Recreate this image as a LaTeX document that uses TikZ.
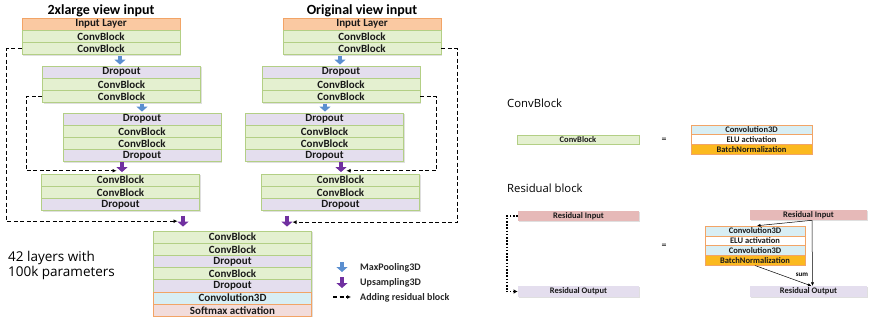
\documentclass[tikz,border=0pt]{standalone}
\usepackage{fontspec}
\setmainfont{Carlito}
\newfontfamily\gothic{Open Sans}
\usetikzlibrary{arrows.meta, shadows}

\definecolor{convgreen}{HTML}{E4F0D0}
\definecolor{convedge}{HTML}{B3CF85}
\definecolor{droplilac}{HTML}{E4DEEE}
\definecolor{inputpeach}{HTML}{FAC9A2}
\definecolor{orangeedge}{HTML}{F2A466}
\definecolor{convcyan}{HTML}{D8EEF4}
\definecolor{softpink}{HTML}{F2DCDB}
\definecolor{bnorange}{HTML}{FBB91F}
\definecolor{resred}{HTML}{E6B9B8}
\definecolor{poolblue}{HTML}{5B8FD0}
\definecolor{upviolet}{HTML}{7030A0}

\tikzset{
  layer/.style={draw=convedge, line width=0.8pt, minimum width=158pt, minimum height=12.2pt,
    inner sep=0pt, text=black!90, font=\bfseries\fontsize{11}{11}\selectfont,
    drop shadow={shadow xshift=1pt, shadow yshift=-1pt, opacity=0.25}},
  conv/.style={layer, fill=convgreen},
  drop/.style={layer, fill=droplilac},
  inlayer/.style={layer, fill=inputpeach, draw=orangeedge},
  conv3d/.style={layer, fill=convcyan, draw=orangeedge},
  softmax/.style={layer, fill=softpink, draw=orangeedge},
  % smaller boxes of the block definitions
  minibox/.style={layer, line width=0.6pt, minimum height=9.8pt, font=\bfseries\fontsize{8.5}{8.5}\selectfont},
  heading/.style={anchor=base, inner sep=0pt, font=\bfseries\fontsize{14}{14}\selectfont},
  subhead/.style={anchor=west, inner sep=0pt, font=\gothic\fontsize{11.3}{11.3}\selectfont},
  legend/.style={anchor=west, inner sep=0pt, text=black!85, font=\bfseries\fontsize{10}{10}\selectfont},
  pool/.style={line width=4.5pt, poolblue, shorten <=1pt, shorten >=1pt, -{Triangle[length=5pt, width=11pt]}},
  upsample/.style={line width=4.5pt, upviolet, -{Triangle[length=5pt, width=11pt]}},
  resid/.style={line width=1.2pt, dash pattern=on 4pt off 2.5pt, -{Latex[length=4pt, width=4pt]}},
  thinarrow/.style={line width=0.5pt, -{Latex[length=3.5pt, width=3pt]}},
}

\begin{document}
\begin{tikzpicture}[x=1pt, y=-1pt]
\useasboundingbox (0,0) rectangle (870,324);

% titles
\node[heading] (tA) at (101,14.5) {2xlarge view input};
\node[heading] (tB) at (362,14.5) {Original view input};

% 2xlarge branch
\foreach \lbl/\sty [count=\i] in {Input Layer/inlayer, ConvBlock/conv, ConvBlock/conv}
  \node[\sty] (A1-\i) at (101,11.9+12.2*\i) {\lbl};
\foreach \lbl/\sty [count=\i] in {Dropout/drop, ConvBlock/conv, ConvBlock/conv}
  \node[\sty] (A2-\i) at (121.5,59.9+12.2*\i) {\lbl};
\foreach \lbl/\sty [count=\i] in {Dropout/drop, ConvBlock/conv, ConvBlock/conv, Dropout/drop}
  \node[\sty] (A3-\i) at (142,106.9+12.2*\i) {\lbl};
\foreach \lbl/\sty [count=\i] in {ConvBlock/conv, ConvBlock/conv, Dropout/drop}
  \node[\sty] (A4-\i) at (120.5,167.9+12.2*\i) {\lbl};

% original view branch
\foreach \lbl/\sty [count=\i] in {Input Layer/inlayer, ConvBlock/conv, ConvBlock/conv}
  \node[\sty] (B1-\i) at (362,11.9+12.2*\i) {\lbl};
\foreach \lbl/\sty [count=\i] in {Dropout/drop, ConvBlock/conv, ConvBlock/conv}
  \node[\sty] (B2-\i) at (341,59.9+12.2*\i) {\lbl};
\foreach \lbl/\sty [count=\i] in {Dropout/drop, ConvBlock/conv, ConvBlock/conv, Dropout/drop}
  \node[\sty] (B3-\i) at (324.5,106.9+12.2*\i) {\lbl};
\foreach \lbl/\sty [count=\i] in {ConvBlock/conv, ConvBlock/conv, Dropout/drop}
  \node[\sty] (B4-\i) at (340.5,167.9+12.2*\i) {\lbl};

% merged head
\foreach \lbl/\sty [count=\i] in {ConvBlock/conv, ConvBlock/conv, Dropout/drop, ConvBlock/conv,
    Dropout/drop, Convolution3D/conv3d, Softmax activation/softmax}
  \node[\sty] (C-\i) at (232.5,224.9+12.2*\i) {\lbl};

% pooling and upsampling
\draw[pool] ([xshift=19pt]A1-3.south) -- ([xshift=-1.5pt]A2-1.north);
\draw[pool] ([xshift=20.5pt]A2-3.south) -- (A3-1.north);
\draw[upsample, shorten >=1.5pt] ([xshift=-20pt]A3-4.south) -- coordinate[pos=.75] (jA3) ([xshift=1.5pt]A4-1.north);
\draw[upsample, shorten <=4.5pt, shorten >=4pt] ([xshift=62.5pt]A4-3.south) -- coordinate[pos=.52] (jA4) ([xshift=-49.5pt]C-1.north);

\draw[pool] ([xshift=-22pt]B1-3.south) -- ([xshift=-1pt]B2-1.north);
\draw[pool] ([xshift=-16pt]B2-3.south) -- ([xshift=0.5pt]B3-1.north);
\draw[upsample, shorten >=1.5pt] ([xshift=16.5pt]B3-4.south) -- coordinate[pos=.75] (jB3) ([xshift=0.5pt]B4-1.north);
\draw[upsample, shorten <=4.5pt, shorten >=4pt] ([xshift=-53.5pt]B4-3.south) -- coordinate[pos=.57] (jB4) ([xshift=54.5pt]C-1.north);

% residual skips
\draw[resid] (A1-3.west) -- ++(-15,0) |- ([xshift=-5.5pt]jA4);
\draw[resid] (A2-3.west) -- ++(-16,0) |- ([xshift=-5.5pt]jA3);
\draw[resid] (B1-3.east) -- ++(16,0) |- ([xshift=5.5pt]jB4);
\draw[resid] (B2-3.east) -- ++(16,0) |- ([xshift=5.5pt]jB3);

\node[anchor=west, inner sep=0pt, align=left, font=\gothic\fontsize{13.5}{15}\selectfont] (count) at (8,265.5)
  {42 layers with\\100k parameters};

% legend
\draw[line width=4.5pt, poolblue, -{Triangle[length=5pt, width=11pt]}] (342,262) -- (342,272);
\draw[line width=4.5pt, upviolet, -{Triangle[length=5pt, width=11pt]}] (342,277) -- (342,288);
\draw[resid] (333,297) -- (351,297);
\node[legend] (lgPool) at (360,268) {MaxPooling3D};
\node[legend] (lgUp) at (360,283) {Upsampling3D};
\node[legend] (lgRes) at (360,297.5) {Adding residual block};

% ConvBlock definition
\node[subhead] (cbHead) at (507,103) {ConvBlock};
\node[minibox, fill=convgreen, minimum width=122pt, minimum height=9pt] (cbOne) at (578,139.5) {ConvBlock};
\node[font=\fontsize{10}{10}\selectfont] (eqA) at (664,140) {=};
\node[minibox, fill=convcyan, draw=orangeedge, minimum width=121pt] (cb-1) at (751.5,129.8) {Convolution3D};
\node[minibox, fill=white, draw=orangeedge, minimum width=121pt] (cb-2) at (751.5,139.6) {ELU activation};
\node[minibox, fill=bnorange, draw=orangeedge, minimum width=121pt] (cb-3) at (751.5,149.4) {BatchNormalization};

% residual block definition
\node[subhead] (rbHead) at (507,188) {Residual block};
\node[minibox, fill=resred, draw=none, minimum width=121pt, minimum height=10pt] (rIn) at (578.5,216) {Residual Input};
\node[minibox, fill=droplilac, draw=none, minimum width=121pt, minimum height=10.5pt] (rOut) at (578.5,291.5) {Residual Output};
\draw[line width=1.6pt, dash pattern=on 1.6pt off 1.6pt, -{Latex[length=4pt, width=4.5pt]}]
  (rIn.west) -- ++(-11,0) |- (rOut.west);
\node[font=\fontsize{10}{10}\selectfont] (eqB) at (664,246) {=};

\node[minibox, fill=resred, draw=none, minimum width=117pt, minimum height=10pt] (rIn2) at (808.5,215) {Residual Input};
\node[minibox, fill=droplilac, draw=none, minimum width=117pt, minimum height=10.5pt] (rOut2) at (808.5,291.5) {Residual Output};
\foreach \lbl/\col [count=\i] in {Convolution3D/convcyan, ELU activation/white, Convolution3D/convcyan, BatchNormalization/bnorange}
  \node[minibox, fill=\col, draw=orangeedge, minimum width=100pt] (rb-\i) at (755,221.1+9.8*\i) {\lbl};

\draw[thinarrow] ([xshift=3.5pt]rIn2.south) -- ([xshift=2pt]rb-1.north);
\draw[thinarrow] ([xshift=3.5pt]rIn2.south) -- ([xshift=4pt]rOut2.north);
\draw[thinarrow] (rb-4.south) -- ([xshift=3pt]rOut2.north);
\node[font=\bfseries\fontsize{7}{7}\selectfont, fill=white, inner sep=0.5pt] (sum) at (802,275) {sum};
\end{tikzpicture}
\end{document}
